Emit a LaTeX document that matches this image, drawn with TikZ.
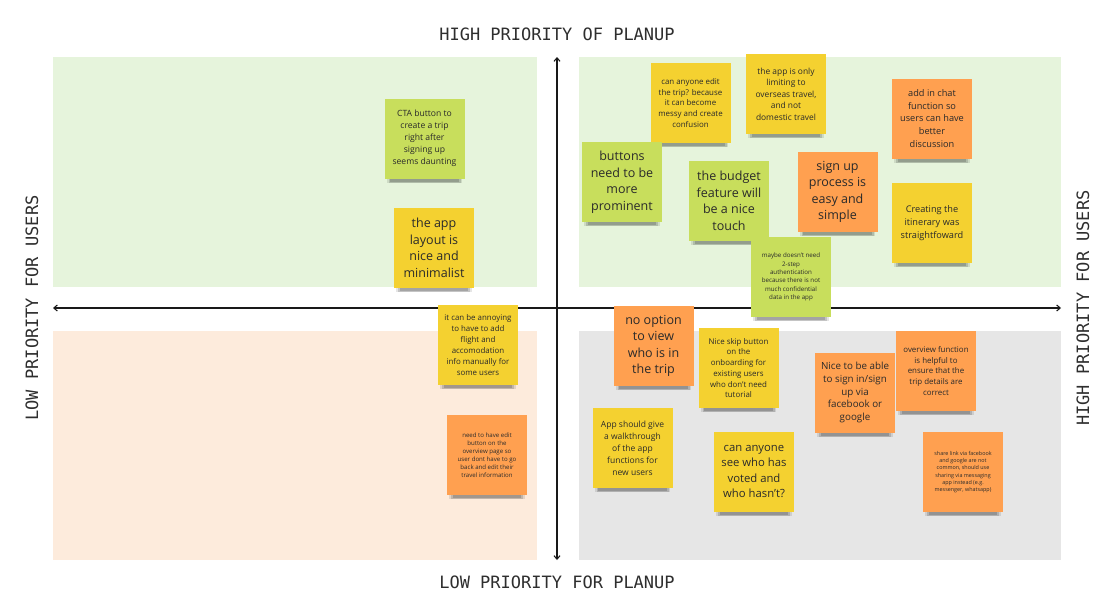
\documentclass[tikz,border=0pt]{standalone}
\usepackage{fontspec}
\setmainfont{Open Sans}
\newfontfamily\axisfont{DejaVu Sans Mono}
\usetikzlibrary{arrows.meta,shadows}
\definecolor{qgreen}{HTML}{E6F4DC}
\definecolor{qpeach}{HTML}{FDEBDC}
\definecolor{qgray}{HTML}{E6E6E6}
\definecolor{ngreen}{HTML}{C8DE5C}
\definecolor{nyellow}{HTML}{F4D130}
\definecolor{norange}{HTML}{FFA050}
\definecolor{ntext}{HTML}{2A2A2A}
\definecolor{axistext}{HTML}{2E2E2E}
\tikzset{
  axisline/.style={draw=black!90, line width=1.1pt, {Straight Barb[length=3.5pt,width=6pt]}-{Straight Barb[length=3.5pt,width=6pt]}},
  axislabel/.style={font=\axisfont\fontsize{17}{20}\selectfont, text=axistext, inner sep=0pt},
  note/.style={draw=none, minimum width=80pt, minimum height=80pt, inner sep=2pt, align=center, text=ntext,
    drop shadow={shadow xshift=0pt, shadow yshift=-7pt, shadow scale=.94, opacity=.10, fill=black},
    drop shadow={shadow xshift=0pt, shadow yshift=-9pt, shadow scale=.90, opacity=.14, fill=black},
    drop shadow={shadow xshift=0pt, shadow yshift=-10pt, shadow scale=.86, opacity=.16, fill=black}},
  gnote/.style={note, fill=ngreen},
  ynote/.style={note, fill=nyellow},
  onote/.style={note, fill=norange},
  big/.style={font=\fontsize{12.5}{16.5}\selectfont},
}
\begin{document}
\begin{tikzpicture}[x=1pt,y=-1pt]
\useasboundingbox (0,0) rectangle (1112,606);
\fill[white] (0,0) rectangle (1112,606);
% quadrants
\fill[qgreen] (53,57) rectangle (537,287);
\fill[qgreen] (579,57) rectangle (1061,287);
\fill[qpeach] (53,331) rectangle (537,560);
\fill[qgray] (579,331) rectangle (1061,560);
% axes
\coordinate (xl) at (53,308);
\coordinate (xr) at (1061,308);
\coordinate (yt) at (557,57);
\coordinate (yb) at (557,560);
\draw[axisline] (xl) -- (xr);
\draw[axisline] (yb) -- (yt);
% axis labels
\node[axislabel] (ltop) at (557,34) {HIGH PRIORITY OF PLANUP};
\node[axislabel] (lbot) at (557,582) {LOW PRIORITY FOR PLANUP};
\node[axislabel, rotate=90] (lleft) at (32,308) {LOW PRIORITY FOR USERS};
\node[axislabel, rotate=90] (lright) at (1083,308) {HIGH PRIORITY FOR USERS};
% notes top-left
\node[gnote, font=\fontsize{8.6}{12}\selectfont] (n1) at (424.5,138.5) {CTA button to\\create a trip\\right after\\signing up\\seems daunting};
\node[ynote, big] (n2) at (434,248) {the app\\layout is\\nice and\\minimalist};
% notes bottom-left
\node[ynote, font=\fontsize{7.9}{11}\selectfont] (n3) at (478,345) {it can be annoying\\to have to add\\flight and\\accomodation\\info manually for\\some users};
\node[onote, font=\fontsize{6.1}{8}\selectfont] (n4) at (487,455) {need to have edit\\button on the\\overview page so\\user dont have to go\\back and edit their\\travel information};
% notes top-right
\node[ynote, font=\fontsize{7.9}{10.7}\selectfont] (n5) at (690.5,103) {can anyone edit\\the trip? because\\it can become\\messy and create\\confusion};
\node[ynote, font=\fontsize{8.4}{11.5}\selectfont] (n6) at (786,94) {the app is only\\limiting to\\overseas travel,\\and not\\domestic travel};
\node[onote, font=\fontsize{9.2}{12.7}\selectfont] (n7) at (932,118.5) {add in chat\\function so\\users can have\\better\\discussion};
\node[gnote, big] (n8) at (622,182) {buttons\\need to be\\more\\prominent};
\node[gnote, big] (n9) at (729,201) {the budget\\feature will\\be a nice\\touch};
\node[onote, big] (n10) at (837.5,192) {sign up\\process is\\easy and\\simple};
\node[ynote, font=\fontsize{9.2}{13}\selectfont] (n11) at (932,223) {Creating the\\itinerary was\\straightfoward};
\node[gnote, font=\fontsize{6.2}{8.3}\selectfont] (n12) at (791,277) {maybe doesn't need\\2-step\\authentication\\because there is not\\much confidential\\data in the app};
% notes bottom-right
\node[onote, big] (n13) at (653.5,346) {no option\\to view\\who is in\\the trip};
\node[ynote, font=\fontsize{7.9}{10.7}\selectfont] (n14) at (738.5,368) {Nice skip button\\on the\\onboarding for\\existing users\\who don't need\\tutorial};
\node[onote, font=\fontsize{9.8}{12.7}\selectfont] (n15) at (855,392.5) {Nice to be able\\to sign in/sign\\up via\\facebook or\\google};
\node[onote, font=\fontsize{7.9}{10.7}\selectfont] (n16) at (936,371) {overview function\\is helpful to\\ensure that the\\trip details are\\correct};
\node[ynote, font=\fontsize{8.5}{12}\selectfont] (n17) at (632.5,448) {App should give\\a walkthrough\\of the app\\functions for\\new users};
\node[ynote, font=\fontsize{11.3}{15.3}\selectfont] (n18) at (754,471.5) {can anyone\\see who has\\voted and\\who hasn't?};
\node[onote, font=\fontsize{5.4}{7.3}\selectfont] (n19) at (963,472) {share link via facebook\\and google are not\\common, should use\\sharing via messaging\\app instead (e.g.\\messenger, whatsapp)};
\end{tikzpicture}
\end{document}
